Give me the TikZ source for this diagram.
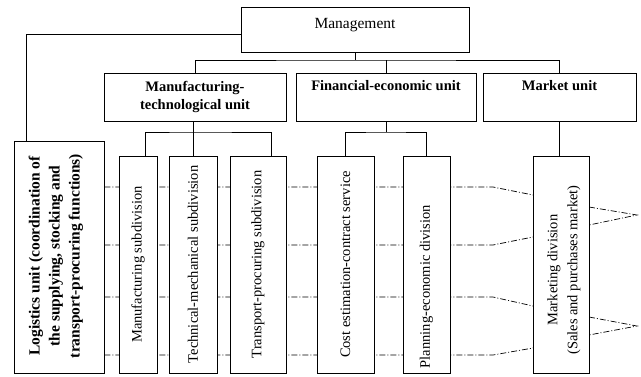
\documentclass[tikz,border=0pt]{standalone}
\usepackage{fontspec}
\setmainfont{Liberation Serif}
\usepackage{xcolor}
\usetikzlibrary{backgrounds}
\tikzset{
    box/.style={draw, fill=white, line width=0.8pt, inner sep=0pt, align=center},
    unitbox/.style={box, minimum height=48pt, font=\fontsize{14.5}{18}\selectfont\bfseries},
    subbox/.style={box, minimum height=217pt},
    vtext/.style={rotate=90, inner sep=0pt, align=center, font=\fontsize{14.5}{20}\selectfont},
    link/.style={line width=0.8pt},
    flow/.style={line width=0.7pt, dash pattern=on 6pt off 2pt on 1pt off 2pt}
}

\begin{document}
\begin{tikzpicture}[x=1pt, y=-1pt]

    \useasboundingbox (0, 0) rectangle (641, 376);

    % Management
    \node[box, minimum width=228pt, minimum height=45pt, text height=11pt, text depth=13pt, font=\fontsize{15.5}{18}\selectfont] (mgmt) at (355, 29.5) {Management};

    % Units
    \node[unitbox, minimum width=182pt] (manu) at (195, 97) {Manufacturing-\\technological unit};
    \node[unitbox, minimum width=180pt] (fin) at (386, 97) {Financial-economic unit\\\strut};
    \node[unitbox, minimum width=153pt] (mkt) at (559.5, 97) {Market unit\\\strut};

    % Logistics
    \node[box, minimum width=90pt, minimum height=232pt] (logi) at (59, 257) {};
    \node[vtext, font=\fontsize{15.5}{20}\selectfont\bfseries] (logitext) at (56, 256) {Logistics unit (coordination of\\the supplying, stocking and\\transport-procuring functions)};

    % Subdivisions
    \node[subbox, minimum width=38pt] (sub1) at (138, 264.5) {};
    \node[subbox, minimum width=48pt] (sub2) at (193, 264.5) {};
    \node[subbox, minimum width=56pt] (sub3) at (258, 264.5) {};
    \node[subbox, minimum width=57pt] (sub4) at (345.5, 264.5) {};
    \node[subbox, minimum width=47pt] (sub5) at (426.5, 264.5) {};
    \node[subbox, minimum width=56pt] (sub6) at (561, 264.5) {};

    \node[vtext] (sub1text) at (sub1.center) {Manufacturing subdivision};
    \node[vtext] (sub2text) at (sub2.center) {Technical-mechanical subdivision};
    \node[vtext] (sub3text) at (sub3.center) {Transport-procuring subdivision};
    \node[vtext] (sub4text) at (sub4.center) {Cost estimation-contract service};
    \node[vtext, anchor=west] (sub5text) at ([yshift=5pt]sub5.south) {Planning-economic division};
    \node[vtext] (sub6text) at ([xshift=3pt, yshift=-5.5pt]sub6.center) {Marketing division\\(Sales and purchases market)};

    % Links
    \coordinate (topbus) at (355, 60);
    \draw[link] (mgmt.south) -- (topbus);
    \draw[link] (manu.north) |- (topbus) -| (mkt.north);
    \draw[link] (fin.north) -- (fin.north |- topbus);
    \draw[link] ([yshift=-4.5pt]mgmt.west) -| ([xshift=13pt]logi.north west);

    \coordinate (manubus) at (193, 132);
    \draw[link] (sub2.north |- manu.south) -- (sub2.north);
    \draw[link] ([xshift=7pt]sub1.north) |- (manubus) -| ([xshift=13pt]sub3.north);

    \coordinate (finbus) at (386, 132);
    \draw[link] (fin.south) -- (finbus);
    \draw[link] (sub4.north) |- (finbus) -| (sub5.north);

    \draw[link] (mkt.south) -- (mkt.south |- sub6.north);

    % Flows
    \coordinate (bend1) at (493, 187);
    \coordinate (bend2) at (493, 245);
    \coordinate (bend3) at (493, 297);
    \coordinate (bend4) at (493, 355);
    \coordinate (end1) at (533, 195);
    \coordinate (end2) at (533, 237);
    \coordinate (end3) at (533, 306);
    \coordinate (end4) at (533, 348);

    \coordinate (outa1) at (589, 207);
    \coordinate (tipa) at (637, 215);
    \coordinate (outa2) at (589, 225);
    \coordinate (outb1) at (589, 317);
    \coordinate (tipb) at (637, 326);
    \coordinate (outb2) at (589, 335);

    \begin{scope}[on background layer]
        \fill[white] (0, 0) rectangle (641, 376);
        \draw[flow] (logi.east |- bend1) -- (bend1) -- (end1);
        \draw[flow] (logi.east |- bend2) -- (bend2) -- (end2);
        \draw[flow] (logi.east |- bend3) -- (bend3) -- (end3);
        \draw[flow] (logi.east |- bend4) -- (bend4) -- (end4);
        \draw[flow] (outa1) -- (tipa) -- (outa2);
        \draw[flow] (outb1) -- (tipb) -- (outb2);
    \end{scope}

\end{tikzpicture}
\end{document}
